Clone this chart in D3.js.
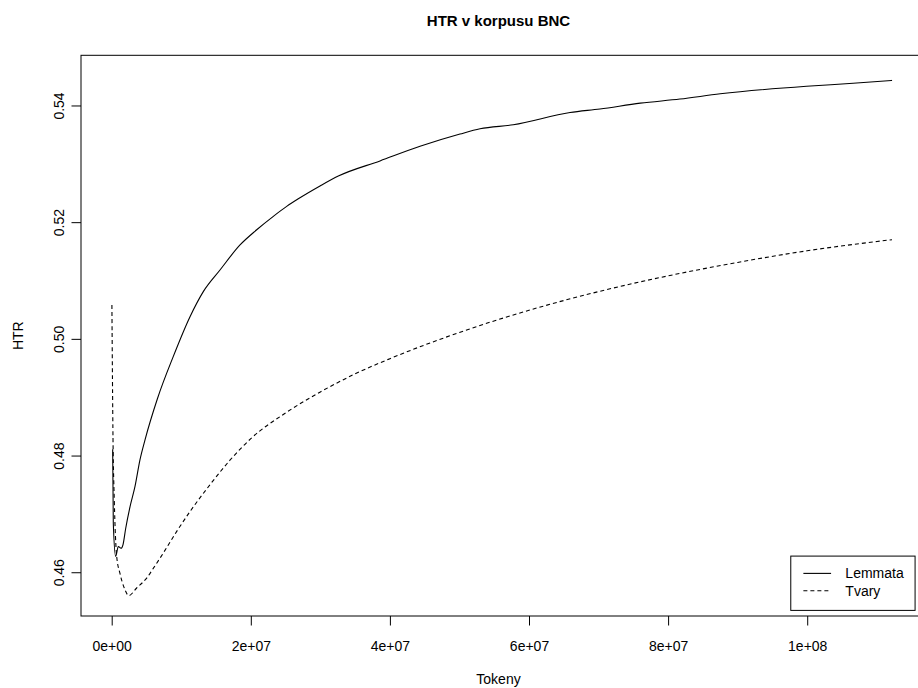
<!DOCTYPE html>
<html>
<head>
<meta charset="utf-8">
<script src="https://cdnjs.cloudflare.com/ajax/libs/d3/7.8.5/d3.min.js"></script>
<style>
  body { margin: 0; background: #fff; }
  svg { display: block; font-family: "Liberation Sans", Arial, Helvetica, sans-serif; }
  .axis path, .axis line { stroke: #000; stroke-width: 1; }
</style>
</head>
<body>
<div id="chart"></div>
<script>
// values
var lemmataTokens = [1.4e5, 2.3e5, 5.75e5, 9.5e5, 1.34e6, 1.62e6, 2.01e6, 2.63e6, 3.35e6, 4.07e6, 4.79e6,
  6.56e6, 8.86e6, 1.126e7, 1.317e7, 1.557e7, 1.845e7, 2.085e7, 2.324e7, 2.516e7, 2.683e7, 2.995e7,
  3.258e7, 3.858e7, 4.433e7, 5.008e7, 5.296e7, 5.774e7, 6.59e7, 7.02e7, 7.6e7, 8.17e7, 8.75e7,
  9.99e7, 1.066e8, 1.122e8];
var lemmataHTR = [0.4811, 0.4684, 0.4627, 0.4644, 0.4641, 0.4647, 0.4675, 0.4712, 0.4747, 0.4793, 0.4827,
  0.4897, 0.4970, 0.5038, 0.5081, 0.5118, 0.5161, 0.5187, 0.5210, 0.5227, 0.5240, 0.5262,
  0.5279, 0.5305, 0.5330, 0.5351, 0.5360, 0.5367, 0.5388, 0.5394, 0.5404, 0.5411, 0.5420,
  0.5433, 0.5438, 0.5443];

var tvaryTokens = [3e4, 1.9e5, 3.7e5, 7.2e5, 1.19e6, 1.91e6, 2.44e6, 3.59e6, 5.03e6, 6.0e6, 7.42e6,
  9.35e6, 1.126e7, 1.413e7, 1.7e7, 2.0e7, 2.5e7, 3.0e7, 3.5e7, 4.0e7, 5.0e7, 6.0e7,
  7.0e7, 8.0e7, 9.0e7, 1.0e8, 1.122e8];
var tvaryHTR = [0.5058, 0.4827, 0.4724, 0.4627, 0.4598, 0.4570, 0.4560, 0.4573, 0.4590, 0.4607, 0.4633,
  0.4670, 0.4704, 0.4750, 0.4792, 0.4829, 0.4873, 0.4909, 0.4940, 0.4966, 0.5011, 0.5049,
  0.5081, 0.5108, 0.5131, 0.5151, 0.5170];

var xTicks = [0, 2e7, 4e7, 6e7, 8e7, 1e8];
var xTickLabels = ["0e+00", "2e+07", "4e+07", "6e+07", "8e+07", "1e+08"];
var yTicks = [0.46, 0.48, 0.50, 0.52, 0.54];
var yTickLabels = ["0.46", "0.48", "0.50", "0.52", "0.54"];

var seriesNames = ["Lemmata", "Tvary"];

var width = 918, height = 688;
// the plot box runs slightly past the right edge of the picture
var margin = {top: 55.3, right: -5.5, bottom: 72, left: 81};
var plotW = width - margin.left - margin.right,
    plotH = height - margin.top - margin.bottom;

var svg = d3.select("#chart").append("svg")
    .attr("width", width)
    .attr("height", height);

var x = d3.scaleLinear().domain([-4.414e6, 1.1672e8]).range([0, plotW]);
var y = d3.scaleLinear().domain([0.4525, 0.5486]).range([plotH, 0]);

var g = svg.append("g")
    .attr("transform", "translate(" + margin.left + "," + margin.top + ")");

var series = [
  {name: seriesNames[0], dash: null, pts: d3.zip(lemmataTokens, lemmataHTR)},
  {name: seriesNames[1], dash: "4,3", pts: d3.zip(tvaryTokens, tvaryHTR)}
];

var line = d3.line()
    .x(function(d) { return x(d[0]); })
    .y(function(d) { return y(d[1]); })
    .curve(d3.curveMonotoneX);

g.selectAll(".series").data(series).enter().append("path")
    .attr("class", "series")
    .attr("d", function(d) { return line(d.pts); })
    .attr("fill", "none")
    .attr("stroke", "#000")
    .attr("stroke-width", 1.1)
    .attr("stroke-dasharray", function(d) { return d.dash; });

// x axis
var xAxis = g.append("g")
    .attr("class", "axis")
    .attr("transform", "translate(0," + plotH + ")")
    .call(d3.axisBottom(x).tickValues(xTicks).tickSize(9.5).tickSizeOuter(0)
      .tickFormat(function(d, i) { return xTickLabels[i]; }));
xAxis.selectAll("text")
    .attr("y", 35).attr("dy", null)
    .attr("font-size", 14).attr("fill", "#000");
xAxis.select(".domain").remove();

// y axis
var yAxis = g.append("g")
    .attr("class", "axis")
    .call(d3.axisLeft(y).tickValues(yTicks).tickSize(9.5).tickSizeOuter(0)
      .tickFormat(function(d, i) { return yTickLabels[i]; }));
yAxis.selectAll("text")
    .attr("x", 0).attr("y", -17.5).attr("dy", null)
    .attr("transform", "rotate(-90)")
    .attr("text-anchor", "middle")
    .attr("font-size", 14).attr("fill", "#000");
yAxis.select(".domain").remove();

// box
g.append("rect")
    .attr("width", plotW).attr("height", plotH)
    .attr("fill", "none").attr("stroke", "#000").attr("stroke-width", 1);

// titles, centred on the visible plot area
var midX = (margin.left + 916) / 2;
svg.append("text")
    .attr("x", midX).attr("y", 25.5)
    .attr("text-anchor", "middle")
    .attr("font-size", 15).attr("font-weight", "bold")
    .text("HTR v korpusu BNC");

svg.append("text")
    .attr("x", midX).attr("y", 684)
    .attr("text-anchor", "middle")
    .attr("font-size", 14)
    .text("Tokeny");

svg.append("text")
    .attr("transform", "translate(23," + (margin.top + plotH / 2) + ") rotate(-90)")
    .attr("text-anchor", "middle")
    .attr("font-size", 14)
    .text("HTR");

// legend, bottom right with a 1% inset
var legW = 124.3, legH = 54.3;
var leg = g.append("g")
    .attr("transform", "translate(" + (plotW * 0.99 - legW) + "," + (plotH * 0.99 - legH) + ")");
leg.append("rect")
    .attr("width", legW).attr("height", legH)
    .attr("fill", "#fff").attr("stroke", "#000").attr("stroke-width", 1);
var item = leg.selectAll(".item").data(series).enter().append("g")
    .attr("transform", function(d, i) { return "translate(0," + (17.3 + i * 17.4) + ")"; });
item.append("line")
    .attr("x1", 12.6).attr("x2", 40.3)
    .attr("stroke", "#000").attr("stroke-width", 1.1)
    .attr("stroke-dasharray", function(d) { return d.dash; });
item.append("text")
    .attr("x", 54.6).attr("y", 5)
    .attr("font-size", 14)
    .text(function(d) { return d.name; });
</script>
</body>
</html>
